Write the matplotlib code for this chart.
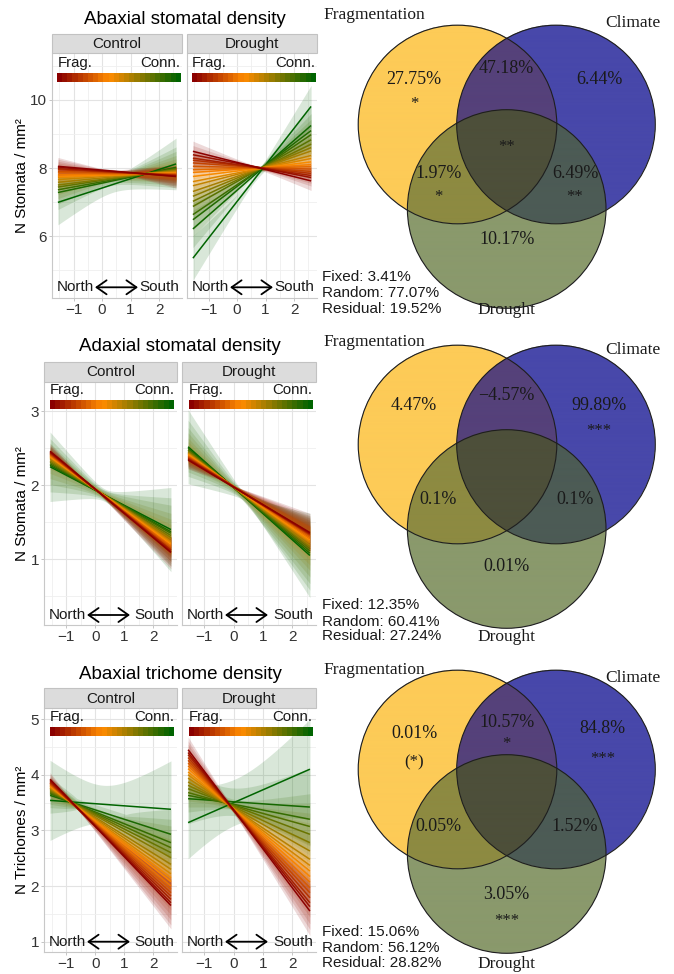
import numpy as np
import matplotlib
matplotlib.use("Agg")
import matplotlib.pyplot as plt
from matplotlib.colors import LinearSegmentedColormap, to_rgba
from matplotlib.patches import Circle, Rectangle

# ---------------------------------------------------------------- data
panel_titles = ["Abaxial stomatal density", "Adaxial stomatal density", "Abaxial trichome density"]
y_labels = ["N Stomata / mm²", "N Stomata / mm²", "N Trichomes / mm²"]
facet_names = ["Control", "Drought"]
x_ticks = [-1, 0, 1, 2]
x_first, x_last = -1.55, 2.6

# Row 1 : abaxial stomatal density
r1c_conn = [0.00, 0.05, 0.10, 0.17, 0.24, 0.30, 0.36, 0.42, 0.48, 0.55, 0.62, 0.70, 0.78, 0.86, 0.93, 1.00]
r1c_left = [8.05, 8.02, 7.98, 7.95, 7.90, 7.86, 7.80, 7.76, 7.72, 7.66, 7.58, 7.50, 7.44, 7.36, 7.28, 6.99]
r1c_right = [7.75, 7.76, 7.78, 7.79, 7.81, 7.82, 7.84, 7.85, 7.87, 7.89, 7.92, 7.94, 7.97, 7.99, 8.02, 8.12]
r1c_ci_l = [0.26, 0.24, 0.22, 0.20, 0.18, 0.16, 0.15, 0.15, 0.16, 0.18, 0.22, 0.28, 0.34, 0.42, 0.50, 0.66]
r1c_ci_m = [0.08, 0.07, 0.06, 0.06, 0.05, 0.05, 0.05, 0.05, 0.05, 0.06, 0.07, 0.09, 0.11, 0.14, 0.18, 0.27]
r1c_ci_r = [0.34, 0.30, 0.27, 0.24, 0.21, 0.19, 0.18, 0.18, 0.19, 0.22, 0.27, 0.33, 0.40, 0.50, 0.60, 0.76]
r1c_mid = 0.8

r1d_conn = [0.00, 0.05, 0.10, 0.15, 0.20, 0.26, 0.32, 0.38, 0.44, 0.50, 0.56, 0.62, 0.68, 0.74, 0.80, 0.86, 0.92, 0.96, 1.00]
r1d_left = [8.49, 8.39, 8.29, 8.23, 8.15, 8.05, 7.95, 7.87, 7.75, 7.60, 7.48, 7.31, 7.17, 7.02, 6.87, 6.63, 6.48, 6.21, 5.35]
r1d_right = [7.62, 7.72, 7.78, 7.84, 7.90, 7.97, 8.04, 8.10, 8.18, 8.28, 8.37, 8.50, 8.60, 8.70, 8.83, 8.98, 9.10, 9.25, 9.81]
r1d_ci_l = [0.30, 0.27, 0.25, 0.23, 0.21, 0.19, 0.18, 0.18, 0.19, 0.21, 0.24, 0.28, 0.32, 0.36, 0.40, 0.45, 0.50, 0.55, 0.65]
r1d_ci_m = [0.06, 0.05, 0.05, 0.05, 0.04, 0.04, 0.04, 0.04, 0.04, 0.05, 0.05, 0.06, 0.06, 0.07, 0.07, 0.08, 0.09, 0.10, 0.12]
r1d_ci_r = [0.28, 0.25, 0.23, 0.21, 0.20, 0.19, 0.18, 0.18, 0.19, 0.21, 0.24, 0.28, 0.32, 0.36, 0.40, 0.45, 0.50, 0.55, 0.62]
r1d_mid = 0.85

# Row 2 : adaxial stomatal density
r2c_conn = [0.00, 0.05, 0.10, 0.17, 0.24, 0.30, 0.36, 0.42, 0.48, 0.55, 0.62, 0.70, 0.78, 0.86, 0.93, 1.00]
r2c_left = [2.46, 2.45, 2.44, 2.43, 2.42, 2.41, 2.40, 2.39, 2.38, 2.37, 2.35, 2.33, 2.31, 2.29, 2.27, 2.25]
r2c_right = [1.09, 1.10, 1.12, 1.13, 1.15, 1.17, 1.18, 1.20, 1.22, 1.24, 1.27, 1.29, 1.32, 1.35, 1.37, 1.40]
r2c_ci_l = [0.10, 0.09, 0.08, 0.07, 0.07, 0.06, 0.06, 0.07, 0.08, 0.10, 0.13, 0.17, 0.22, 0.28, 0.36, 0.47]
r2c_ci_m = [0.02, 0.02, 0.02, 0.02, 0.02, 0.02, 0.02, 0.02, 0.02, 0.03, 0.03, 0.04, 0.05, 0.06, 0.07, 0.09]
r2c_ci_r = [0.22, 0.20, 0.18, 0.16, 0.14, 0.13, 0.12, 0.13, 0.14, 0.16, 0.20, 0.25, 0.30, 0.38, 0.46, 0.57]
r2c_mid = 0.2

r2d_conn = [0.00, 0.05, 0.10, 0.17, 0.24, 0.30, 0.36, 0.42, 0.48, 0.55, 0.62, 0.70, 0.78, 0.86, 0.93, 1.00]
r2d_left = [2.34, 2.35, 2.36, 2.37, 2.38, 2.39, 2.40, 2.41, 2.42, 2.43, 2.44, 2.45, 2.47, 2.48, 2.50, 2.52]
r2d_right = [1.36, 1.35, 1.34, 1.33, 1.32, 1.30, 1.28, 1.26, 1.24, 1.22, 1.19, 1.17, 1.14, 1.11, 1.08, 1.05]
r2d_ci_l = [0.12, 0.11, 0.10, 0.09, 0.08, 0.08, 0.08, 0.09, 0.10, 0.12, 0.15, 0.19, 0.24, 0.30, 0.38, 0.50]
r2d_ci_m = [0.02, 0.02, 0.02, 0.02, 0.02, 0.02, 0.02, 0.02, 0.02, 0.03, 0.03, 0.04, 0.05, 0.06, 0.07, 0.09]
r2d_ci_r = [0.26, 0.24, 0.22, 0.20, 0.18, 0.17, 0.17, 0.18, 0.20, 0.23, 0.27, 0.32, 0.38, 0.44, 0.50, 0.57]
r2d_mid = 0.1

# Row 3 : abaxial trichome density
r3c_conn = [0.00, 0.05, 0.10, 0.16, 0.22, 0.28, 0.34, 0.40, 0.46, 0.52, 0.58, 0.64, 0.70, 0.76, 0.82, 0.88, 0.94, 1.00]
r3c_left = [3.92, 3.90, 3.88, 3.86, 3.85, 3.83, 3.82, 3.80, 3.79, 3.77, 3.76, 3.74, 3.72, 3.70, 3.68, 3.66, 3.63, 3.54]
r3c_right = [1.65, 1.70, 1.76, 1.82, 1.88, 1.94, 2.00, 2.08, 2.15, 2.22, 2.30, 2.39, 2.51, 2.60, 2.69, 2.78, 2.93, 3.38]
r3c_ci_l = [0.12, 0.11, 0.10, 0.09, 0.08, 0.08, 0.08, 0.08, 0.09, 0.10, 0.11, 0.13, 0.15, 0.18, 0.21, 0.25, 0.32, 0.72]
r3c_ci_m = [0.04, 0.04, 0.03, 0.03, 0.03, 0.03, 0.03, 0.03, 0.03, 0.04, 0.04, 0.05, 0.06, 0.08, 0.10, 0.12, 0.16, 0.52]
r3c_ci_r = [0.42, 0.40, 0.37, 0.34, 0.31, 0.28, 0.26, 0.25, 0.25, 0.26, 0.28, 0.30, 0.33, 0.36, 0.39, 0.42, 0.45, 0.87]
r3c_mid = -0.85

r3d_conn = [0.00, 0.05, 0.10, 0.16, 0.22, 0.28, 0.34, 0.40, 0.46, 0.52, 0.58, 0.64, 0.70, 0.76, 0.82, 0.88, 0.95, 1.00]
r3d_left = [4.45, 4.40, 4.36, 4.31, 4.26, 4.21, 4.16, 4.11, 4.05, 4.00, 3.94, 3.87, 3.81, 3.75, 3.68, 3.63, 3.57, 3.14]
r3d_right = [1.55, 1.63, 1.70, 1.79, 1.88, 1.97, 2.07, 2.17, 2.27, 2.37, 2.48, 2.63, 2.78, 2.93, 3.07, 3.20, 3.42, 4.10]
r3d_ci_l = [0.23, 0.21, 0.19, 0.17, 0.15, 0.14, 0.13, 0.13, 0.13, 0.14, 0.15, 0.17, 0.19, 0.22, 0.26, 0.30, 0.45, 0.65]
r3d_ci_m = [0.05, 0.05, 0.04, 0.04, 0.04, 0.04, 0.04, 0.04, 0.04, 0.04, 0.05, 0.05, 0.06, 0.07, 0.08, 0.10, 0.25, 0.42]
r3d_ci_r = [0.44, 0.41, 0.38, 0.35, 0.32, 0.30, 0.28, 0.27, 0.27, 0.28, 0.30, 0.32, 0.35, 0.38, 0.42, 0.46, 0.70, 0.90]
r3d_mid = -0.17

# Venn diagrams (regions: F, F∩C, C, F∩D, F∩C∩D, C∩D, D)
venn_sets = ["Fragmentation", "Climate", "Drought"]
venn1_pct = [27.75, 47.18, 6.44, 1.97, None, 6.49, 10.17]
venn1_sig = ["*", "", "", "*", "**", "**", ""]
venn2_pct = [4.47, -4.57, 99.89, 0.1, None, 0.1, 0.01]
venn2_sig = ["", "", "***", "", "", "", ""]
venn3_pct = [0.01, 10.57, 84.8, 0.05, None, 1.52, 3.05]
venn3_sig = ["(*)", "*", "***", "", "", "", "***"]
fixed_pct = [3.41, 12.35, 15.06]
random_pct = [77.07, 60.41, 56.12]
residual_pct = [19.52, 27.24, 28.82]

# ---------------------------------------------------------------- style / layout
W, H = 674, 974
SANS = ["Liberation Sans", "DejaVu Sans"]
SERIF = ["Liberation Serif", "DejaVu Serif"]
plt.rcParams["font.family"] = SANS

cmap = LinearSegmentedColormap.from_list(
    "fragconn", [(0.0, "#8B0000"), (0.42, "#FF8C00"), (1.0, "#006400")])

region_colors = ["#FDCB57", "#55417A", "#4848AA", "#8D8A41", "#4D4F3A", "#4C5B55", "#8A996C"]

fig = plt.figure(figsize=(W / 100, H / 100), dpi=100)


def px_box(x0, y0, x1, y1):
    return [x0 / W, 1 - y1 / H, (x1 - x0) / W, (y1 - y0) / H]


rows = [
    dict(panels=[(52, 53, 182, 298), (187, 53, 317, 298)], strip=34, ylim=(4.18, 11.38),
         yticks=[6, 8, 10], yminor=[5, 7, 9, 11], title_y=19, bar_y=(72.7, 82),
         bar_x=[(57.3, 180.7), (191.7, 315)], lab_y=63.3, ns_y=287.3,
         data=[(r1c_conn, r1c_left, r1c_right, r1c_ci_l, r1c_ci_m, r1c_ci_r, r1c_mid),
               (r1d_conn, r1d_left, r1d_right, r1d_ci_l, r1d_ci_m, r1d_ci_r, r1d_mid)]),
    dict(panels=[(44, 381.7, 177, 625), (182, 381.7, 316, 625)], strip=361.7, ylim=(0.11, 3.40),
         yticks=[1, 2, 3], yminor=[0.5, 1.5, 2.5], title_y=346.7, bar_y=(400, 409.3),
         bar_x=[(50, 174), (189, 312.3)], lab_y=390, ns_y=615,
         data=[(r2c_conn, r2c_left, r2c_right, r2c_ci_l, r2c_ci_m, r2c_ci_r, r2c_mid),
               (r2d_conn, r2d_left, r2d_right, r2d_ci_l, r2d_ci_m, r2d_ci_r, r2d_mid)]),
    dict(panels=[(44, 708, 177, 952), (182, 708, 316, 952)], strip=688, ylim=(0.815, 5.2),
         yticks=[1, 2, 3, 4, 5], yminor=[1.5, 2.5, 3.5, 4.5], title_y=674.3, bar_y=(726.7, 735.7),
         bar_x=[(50, 174), (189, 312.3)], lab_y=716.7, ns_y=941.7,
         data=[(r3c_conn, r3c_left, r3c_right, r3c_ci_l, r3c_ci_m, r3c_ci_r, r3c_mid),
               (r3d_conn, r3d_left, r3d_right, r3d_ci_l, r3d_ci_m, r3d_ci_r, r3d_mid)]),
]

venn_rows = [
    dict(cy=124.5, pct=venn1_pct, sig=venn1_sig,
         lab=[(414, 79), (506.7, 68.3), (599, 79), (438.3, 173.3), (506.7, 130), (575, 173.3), (506.7, 239.3)],
         star=[(414, 100), None, None, (438.3, 193.3), (506.7, 142.7), (575, 193.3), None],
         names=[(323, 15), (605, 23), (506.7, 310)], stats_y=[276.7, 293.3, 309.3]),
    dict(cy=444.5, pct=venn2_pct, sig=venn2_sig,
         lab=[(414, 406), (506.7, 395), (599, 406), (438.3, 500), (506.7, 470), (575, 500), (506.7, 566.7)],
         star=[None, None, (599, 427.3), None, None, None, None],
         names=[(323, 341.7), (605, 350), (506.7, 636.7)], stats_y=[605, 621.7, 636]),
    dict(cy=769.5, pct=venn3_pct, sig=venn3_sig,
         lab=[(414, 733.3), (506.7, 722.3), (602.7, 728.3), (438.3, 826.7), (506.7, 795), (575, 826.7), (506.7, 894.3)],
         star=[(414, 758.3), (506.7, 740), (602.7, 755), None, None, None, (506.7, 916.7)],
         names=[(323, 670), (605, 677.7), (506.7, 964.3)], stats_y=[931.7, 948.3, 963.3]),
]

TXT = "#1A1A1A"
TICK = "#333333"


def draw_panel(ax, conn, left, right, ci_l, ci_m, ci_r, mid_x):
    xs = np.linspace(x_first, x_last, 120)
    order = np.argsort(conn)[::-1]
    for i in order:
        col = cmap(conn[i])
        centre = np.interp(xs, [x_first, x_last], [left[i], right[i]])
        coef = np.polyfit([x_first, mid_x, x_last], [ci_l[i] ** 2, ci_m[i] ** 2, ci_r[i] ** 2], 2)
        var = np.clip(np.polyval(coef, xs), (0.6 * min(ci_l[i], ci_m[i], ci_r[i])) ** 2, None)
        hw = np.sqrt(var)
        ax.fill_between(xs, centre - hw, centre + hw, color=col, alpha=0.15, lw=0, zorder=2)
    for i in order:
        ax.plot([x_first, x_last], [left[i], right[i]], color=cmap(conn[i]), lw=1.1,
                solid_capstyle="butt", zorder=3)


for r, row in enumerate(rows):
    for p, (x0, y0, x1, y1) in enumerate(row["panels"]):
        ax = fig.add_axes(px_box(x0, y0, x1, y1))
        ax.set_facecolor("white")
        draw_panel(ax, *row["data"][p])
        ax.set_xlim(-1.7575, 2.8075)
        ax.set_ylim(*row["ylim"])
        ax.set_xticks(x_ticks)
        ax.set_xticks([-1.5, -0.5, 0.5, 1.5, 2.5], minor=True)
        ax.set_yticks(row["yticks"])
        ax.set_yticks(row["yminor"], minor=True)
        ax.grid(which="major", color="#E3E3E3", lw=0.8, zorder=0)
        ax.grid(which="minor", color="#EFEFEF", lw=0.6, zorder=0)
        ax.set_axisbelow(True)
        for s in ["top", "right"]:
            ax.spines[s].set_visible(False)
        for s in ["left", "bottom"]:
            ax.spines[s].set_color("#C8C8C8")
            ax.spines[s].set_linewidth(0.8)
        ax.tick_params(which="minor", length=0)
        ax.tick_params(which="major", length=2, width=0.6, color="#BBBBBB",
                       labelsize=11, labelcolor=TICK, pad=1.5)
        if p == 1:
            ax.tick_params(axis="y", labelleft=False, length=0)
        # strip
        sax = fig.add_axes(px_box(x0, row["strip"], x1, y0))
        sax.set_xlim(0, 1)
        sax.set_ylim(0, 1)
        sax.add_patch(Rectangle((0, 0), 1, 1, facecolor="#DCDCDC", edgecolor="#C2C2C2", lw=0.8,
                                transform=sax.transAxes, clip_on=False))
        sax.text(0.5, 0.47, facet_names[p], ha="center", va="center", fontsize=11, color=TXT)
        sax.axis("off")
        # colour bar
        bx0, bx1 = row["bar_x"][p]
        by0, by1 = row["bar_y"]
        bax = fig.add_axes(px_box(bx0, by0, bx1, by1))
        bax.imshow(np.linspace(0, 1, 24)[None, :], cmap=cmap, aspect="auto", interpolation="nearest")
        bax.axis("off")

# overlay in pixel coordinates
ov = fig.add_axes([0, 0, 1, 1])
ov.set_xlim(0, W)
ov.set_ylim(H, 0)
ov.axis("off")

for r, row in enumerate(rows):
    (cx0, cy0, cx1, cy1), (dx0, dy0, dx1, dy1) = row["panels"]
    ov.text((cx0 + dx1) / 2, row["title_y"], panel_titles[r], ha="center", va="center",
            fontsize=13.5, color="black")
    ov.text(22, (cy0 + cy1) / 2, y_labels[r], rotation=90, ha="center", va="center",
            fontsize=11, color="black")
    for p, (x0, y0, x1, y1) in enumerate(row["panels"]):
        bx0, bx1 = row["bar_x"][p]
        ov.text(bx0, row["lab_y"], "Frag.", ha="left", va="center", fontsize=10.8, color=TXT)
        ov.text(bx1, row["lab_y"], "Conn.", ha="right", va="center", fontsize=10.8, color=TXT)
        ov.text(x0 + 5, row["ns_y"], "North", ha="left", va="center", fontsize=11, color=TXT)
        ov.text(x1 - 3, row["ns_y"], "South", ha="right", va="center", fontsize=11, color=TXT)
        ov.annotate("", xy=(x0 + 86, row["ns_y"]), xytext=(x0 + 43, row["ns_y"]),
                    arrowprops=dict(arrowstyle="<->,head_length=0.6,head_width=0.42",
                                    lw=1.3, color="black", mutation_scale=12,
                                    shrinkA=0, shrinkB=0))

R = 99.3
for v, vr in enumerate(venn_rows):
    cy = vr["cy"]
    cen = [(457.5, cy), (556.0, cy), (506.7, cy + 84.5)]
    x0, x1 = 350.0, 664.0
    y0, y1 = cy - 104.0, cy + 84.5 + 104.0
    nx, ny = int((x1 - x0) * 3), int((y1 - y0) * 3)
    X, Y = np.meshgrid(np.linspace(x0, x1, nx), np.linspace(y0, y1, ny))
    inF = (X - cen[0][0]) ** 2 + (Y - cen[0][1]) ** 2 <= R ** 2
    inC = (X - cen[1][0]) ** 2 + (Y - cen[1][1]) ** 2 <= R ** 2
    inD = (X - cen[2][0]) ** 2 + (Y - cen[2][1]) ** 2 <= R ** 2
    masks = [inF & ~inC & ~inD, inF & inC & ~inD, inC & ~inF & ~inD, inF & inD & ~inC,
             inF & inC & inD, inC & inD & ~inF, inD & ~inF & ~inC]
    img = np.zeros((ny, nx, 4))
    for m, col in zip(masks, region_colors):
        img[m] = to_rgba(col)
    ov.imshow(img, extent=(x0, x1, y1, y0), aspect="auto", interpolation="antialiased", zorder=1)
    for c in cen:
        ov.add_patch(Circle(c, R, fill=False, ec="#1E1E1E", lw=0.8, zorder=2))
    for k in range(7):
        val = vr["pct"][k]
        if val is not None:
            s = f"{val:g}%".replace("-", "\u2212")
            ov.text(*vr["lab"][k], s, ha="center", va="center", fontsize=13,
                    family=SERIF, color=TXT, zorder=3)
        if vr["sig"][k]:
            sx, sy = vr["star"][k]
            ov.text(sx, sy + 4, vr["sig"][k], ha="center", va="center", fontsize=12,
                    family=SERIF, color=TXT, zorder=3)
    (fx, fy), (clx, cly), (dx, dy) = vr["names"]
    ov.text(fx, fy, venn_sets[0], ha="left", va="center", fontsize=12.5, family=SERIF, color=TXT, zorder=3)
    ov.text(clx, cly, venn_sets[1], ha="left", va="center", fontsize=12.5, family=SERIF, color=TXT, zorder=3)
    ov.text(dx, dy, venn_sets[2], ha="center", va="center", fontsize=12.5, family=SERIF, color=TXT, zorder=3)
    sy = vr["stats_y"]
    ov.text(321.7, sy[0], f"Fixed: {fixed_pct[v]:.2f}%", ha="left", va="center", fontsize=11, color=TXT)
    ov.text(321.7, sy[1], f"Random: {random_pct[v]:.2f}%", ha="left", va="center", fontsize=11, color=TXT)
    ov.text(321.7, sy[2], f"Residual: {residual_pct[v]:.2f}%", ha="left", va="center", fontsize=11, color=TXT)

ov.set_xlim(0, W)
ov.set_ylim(H, 0)

fig.savefig("out.png", dpi=100)
